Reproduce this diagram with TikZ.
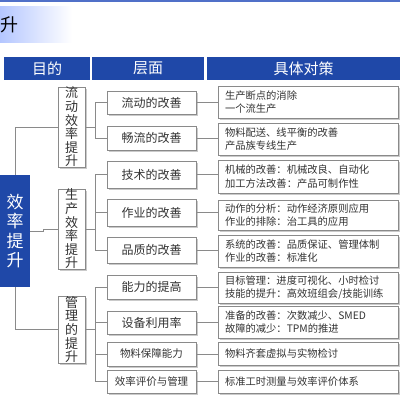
\documentclass[tikz,border=0pt]{standalone}
\usepackage{fontspec}
\setmainfont{Noto Sans CJK SC}
\usetikzlibrary{positioning, shadows}
\definecolor{hdrblue}{HTML}{1F48A8}
\definecolor{topblue}{HTML}{5070C8}
\definecolor{ttlblue}{HTML}{B4C6FF}
\definecolor{boxgray}{HTML}{8A8A8A}
\definecolor{txtgray}{HTML}{333333}
\tikzstyle{header}=[fill=hdrblue, text=white, minimum height=23pt, inner sep=0pt, font=\fontsize{15}{15}\selectfont]
\tikzstyle{card}=[draw=boxgray, fill=white, line width=0.8pt, inner sep=0pt, text=txtgray,
  drop shadow={shadow xshift=1.5pt, shadow yshift=-1.5pt, fill=black!35, opacity=0.6}]
\tikzstyle{goal}=[card, minimum width=27pt, align=center, font=\fontsize{13}{13.6}\selectfont]
\tikzstyle{level}=[card, minimum width=89pt, font=\fontsize{12}{12}\selectfont]
\tikzstyle{smalllevel}=[level, font=\fontsize{10.5}{10.5}\selectfont]
\tikzstyle{action}=[card, minimum width=180pt, text width=166pt, inner xsep=7pt, align=left,
  font=\fontsize{10.3}{13.3}\selectfont]
\tikzstyle{link}=[draw=boxgray, line width=0.8pt]

\begin{document}
\begin{tikzpicture}[x=1pt, y=-1pt]
  \useasboundingbox (0,0) rectangle (400,400);
  % title bar
  \fill[topblue] (0,0) rectangle (400,2);
  \shade[left color=ttlblue, right color=white] (0,6) rectangle (72,42);
  \node (title) at (9.5,25) {\fontsize{18}{18}\selectfont 升};
  % header row
  \node[header, minimum width=86pt] (hgoal) at (47,68.5) {目的};
  \node[header, minimum width=112pt] (hlevel) at (148,68.5) {层面};
  \node[header, minimum width=193pt] (hact) at (303.5,68.5) {具体对策};
  % main goal
  \node[fill=hdrblue, text=white, minimum width=30pt, minimum height=112pt, inner sep=0pt,
    align=center, font=\fontsize{17}{19.5}\selectfont] (main) at (15,231) {效\\率\\提\\升};
  % sub goals
  \node[goal, minimum height=80pt] (flow) at (71.5,127) {流\\动\\效\\率\\提\\升};
  \node[goal, minimum height=80pt] (prod) at (71.5,229) {生\\产\\效\\率\\提\\升};
  \node[goal, minimum height=67pt] (mgmt) at (71.5,329.5) {管\\理\\的\\提\\升};
  % levels
  \node[level, minimum height=23pt] (l1) at (151.5,102.5) {流动的改善};
  \node[level, minimum height=24pt] (l2) at (151.5,138) {畅流的改善};
  \node[level, minimum height=27pt] (l3) at (151.5,174.5) {技术的改善};
  \node[level, minimum height=27pt] (l4) at (151.5,212.5) {作业的改善};
  \node[level, minimum height=26pt] (l5) at (151.5,250) {品质的改善};
  \node[level, minimum height=24pt] (l6) at (151.5,287) {能力的提高};
  \node[level, minimum height=23pt] (l7) at (151.5,322.5) {设备利用率};
  \node[smalllevel, minimum height=24pt] (l8) at (151.5,354) {物料保障能力};
  \node[smalllevel, minimum height=23pt] (l9) at (151.5,381.5) {效率评价与管理};
  % actions
  \node[action, minimum height=32pt] (a1) at (308,102) {生产断点的消除\\一个流生产};
  \node[action, minimum height=32pt] (a2) at (308,139) {物料配送、线平衡的改善\\产品族专线生产};
  \node[action, minimum height=33pt] (a3) at (308,176.5) {机械的改善：机械改良、自动化\\加工方法改善：产品可制作性};
  \node[action, minimum height=30pt] (a4) at (308,215) {动作的分析：动作经济原则应用\\作业的排除：治工具的应用};
  \node[action, minimum height=32pt] (a5) at (308,251) {系统的改善：品质保证、管理体制\\作业的改善：标准化};
  \node[action, minimum height=31pt] (a6) at (308,287.5) {目标管理：进度可视化、小时检讨\\技能的提升：高效班组会/技能训练};
  \node[action, minimum height=32pt] (a7) at (308,322) {准备的改善：次数减少、SMED\\故障的减少：TPM的推进};
  \node[action, minimum height=23pt] (a8) at (308,353.5) {物料齐套虚拟与实物检讨};
  \node[action, minimum height=23pt] (a9) at (308,381.5) {标准工时测量与效率评价体系};
  % main to sub goals
  \draw[link] (main.north) |- (flow.west);
  \draw[link] (main.south) |- (mgmt.west);
  \draw[link] (main.east) -- ++(13,0) |- (prod.west);
  % sub goals to levels
  \draw[link] (flow.east) -- ++(11,0);
  \draw[link] (l1.west) -- ++(-11,0) |- (l2.west);
  \draw[link] (prod.east) -- ++(11,0);
  \draw[link] (l3.west) -- ++(-11,0) |- (l5.west);
  \draw[link] (l4.west) -- ++(-11,0);
  \draw[link] (mgmt.east) -- ++(11,0);
  \draw[link] (l6.west) -- ++(-11,0) |- (l9.west);
  \draw[link] (l7.west) -- ++(-11,0);
  \draw[link] (l8.west) -- ++(-11,0);
  % levels to actions
  \draw[link] (l1.east) -- (l1.east -| a1.west);
  \draw[link] (l2.east) -- (l2.east -| a2.west);
  \draw[link] (l3.east) -- (l3.east -| a3.west);
  \draw[link] (l4.east) -- (l4.east -| a4.west);
  \draw[link] (l5.east) -- (l5.east -| a5.west);
  \draw[link] (l6.east) -- (l6.east -| a6.west);
  \draw[link] (l7.east) -- (l7.east -| a7.west);
  \draw[link] (l8.east) -- (l8.east -| a8.west);
  \draw[link] (l9.east) -- (l9.east -| a9.west);
\end{tikzpicture}
\end{document}
